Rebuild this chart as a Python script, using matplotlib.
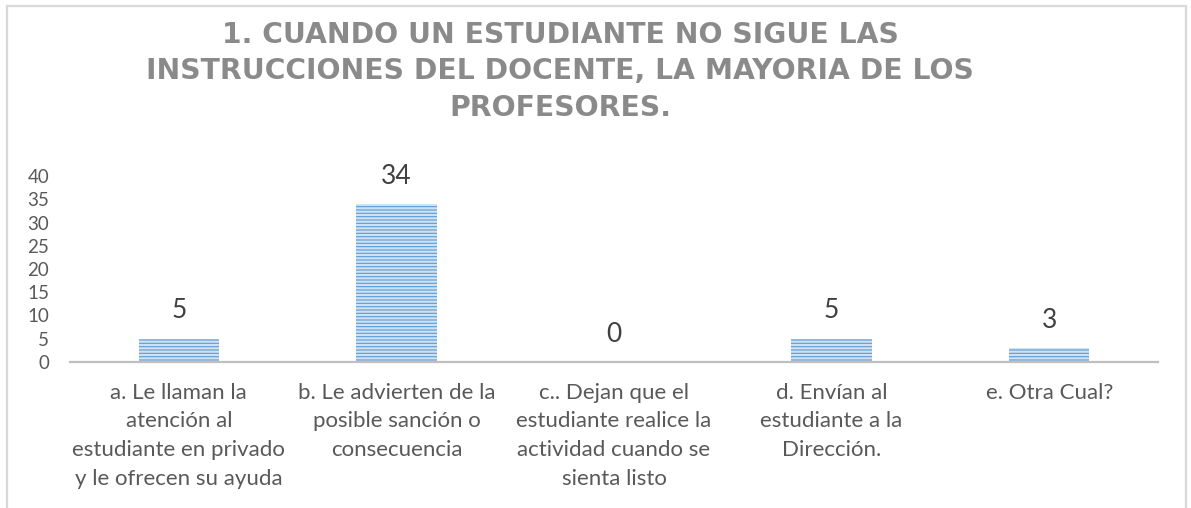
import matplotlib
matplotlib.use("Agg")
import matplotlib.pyplot as plt
from matplotlib.patches import Rectangle

categories = [
    "a. Le llaman la\natención al\nestudiante en privado\ny le ofrecen su ayuda",
    "b. Le advierten de la\nposible sanción o\nconsecuencia",
    "c.. Dejan que el\nestudiante realice la\nactividad cuando se\nsienta listo",
    "d. Envían al\nestudiante a la\nDirección.",
    "e. Otra Cual?",
]
values = [5, 34, 0, 5, 3]
title = "1. CUANDO UN ESTUDIANTE NO SIGUE LAS\nINSTRUCCIONES DEL DOCENTE, LA MAYORIA DE LOS\nPROFESORES."
yticks = [0, 5, 10, 15, 20, 25, 30, 35, 40]

W, H = 1191, 508
plt.rcParams['font.family'] = ['Lato', 'DejaVu Sans']
plt.rcParams['hatch.linewidth'] = 1.6
plt.rcParams['hatch.color'] = '#cfe2f3'

fig = plt.figure(figsize=(W / 100, H / 100), dpi=100)
ax = fig.add_axes([70 / W, (H - 362) / H, (1158 - 70) / W, (362 - 176) / H])

x = list(range(len(values)))
bars = ax.bar(x, values, width=0.37, color='#5b9bd5', edgecolor='#cfe2f3',
              hatch='-----', linewidth=0)
ax.bar_label(bars, labels=[str(v) for v in values], padding=11,
             fontsize=19, color='#404040')

ax.set_xlim(-0.5, len(values) - 0.5)
ax.set_ylim(0, 40)
ax.set_yticks(yticks)
ax.set_yticklabels([str(t) for t in yticks])
ax.set_xticks(x)
ax.set_xticklabels(categories, fontsize=16, color='#595959', linespacing=1.54,
                   va='top')
ax.tick_params(axis='y', length=0, pad=15, labelsize=13.5, labelcolor='#595959')
ax.tick_params(axis='x', length=0, pad=15)
for s in ['top', 'right', 'left']:
    ax.spines[s].set_visible(False)
ax.spines['bottom'].set_color('#bfbfbf')
ax.spines['bottom'].set_linewidth(1.6)

fig.text(560 / W, (H - 21) / H, title, ha='center', va='top', fontsize=20.3,
         fontweight='bold', color='#8a8a8a', linespacing=1.38,
         family=['DejaVu Sans'])

fig.patches.append(Rectangle((7 / W, -0.05), (1186 - 7) / W, (H - 6) / H + 0.05,
                             transform=fig.transFigure, fill=False,
                             edgecolor='#d9d9d9', linewidth=1.6))

fig.savefig("out.png", dpi=100)
